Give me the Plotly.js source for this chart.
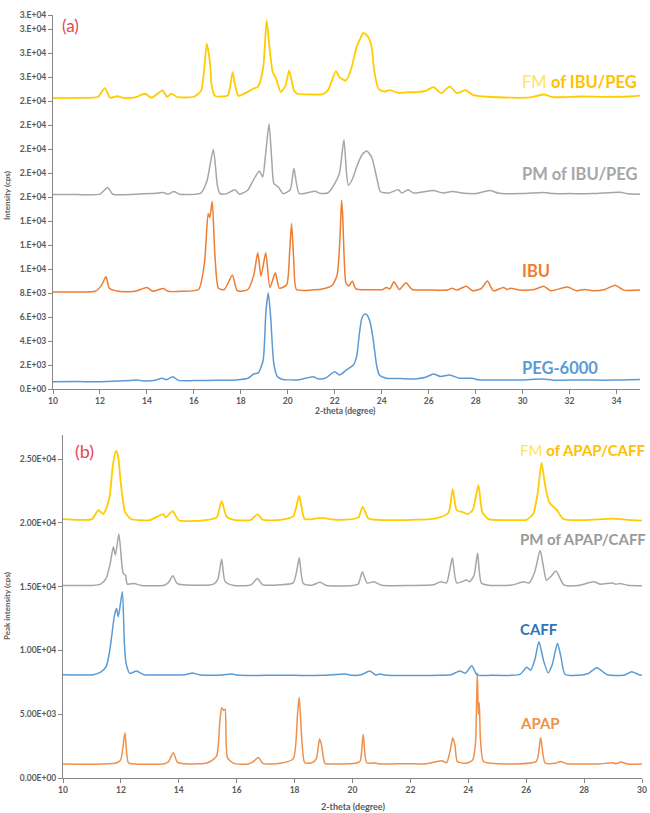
<!DOCTYPE html>
<html>
<head>
<meta charset="utf-8">
<script src="https://cdn.plot.ly/plotly-3.0.1.min.js"></script>
<style>html,body{margin:0;padding:0;background:#fff;}#chart{width:650px;height:813px;}</style>
</head>
<body>
<div id="chart"></div>
<script>
// ---------- Panel (a) data ----------
const pegX = [10.0,11.0,12.0,13.0,13.3,13.58,13.8,14.3,14.64,14.85,15.1,15.35,16.0,17.0,17.8,18.3,18.55,18.75,18.95,19.07,19.17,19.27,19.4,19.55,19.8,20.5,21.07,21.3,21.6,22.0,22.2,22.5,22.79,22.93,23.05,23.15,23.26,23.36,23.5,23.64,23.78,23.9,24.2,24.8,25.5,25.9,26.2,26.5,26.9,27.3,27.85,28.1,29.0,30.0,30.85,31.3,32.5,33.5,34.2,35.0];
const pegY = [600,620,610,680,700,760,680,700,900,780,1030,720,700,720,760,900,1250,1350,2400,6500,8000,6000,2200,1050,800,780,1030,850,900,1440,1170,1600,2000,2700,4640,5890,6250,6200,5610,4080,2000,1170,900,870,850,1000,1250,1050,1170,900,900,780,750,760,830,740,760,740,760,790];

const ibuX = [10.0,11.0,11.8,12.05,12.26,12.4,12.8,13.5,14.0,14.25,14.7,14.9,15.5,16.2,16.45,16.61,16.68,16.78,16.9,17.05,17.3,17.64,17.85,18.3,18.55,18.72,18.86,19.06,19.24,19.47,19.64,19.95,20.08,20.16,20.26,20.37,21.0,21.6,21.9,22.1,22.22,22.29,22.34,22.4,22.48,22.6,22.75,22.9,23.5,24.05,24.2,24.35,24.52,24.75,25.03,25.3,26.0,26.8,27.0,27.2,27.6,27.87,28.25,28.5,28.76,29.18,29.35,29.49,29.9,30.5,30.9,31.2,31.9,32.3,32.63,33.0,33.5,33.94,34.3,35.0];
const ibuY = [8100,8100,8150,8600,9360,8400,8150,8150,8470,8150,8390,8150,8150,8300,10500,14640,14300,15660,11000,8400,8300,9500,8200,8300,9500,11360,9410,11360,8470,9690,8400,8700,11500,13800,10500,8300,8250,8400,8660,9500,12500,15750,14350,11000,8800,8600,9000,8350,8280,8300,8470,8350,8940,8300,8860,8300,8260,8250,8400,8250,8580,8190,8400,9000,8190,8470,8300,8400,8250,8300,8580,8200,8500,8200,8300,8200,8300,8660,8250,8250];

const pmIbuX = [10.0,11.0,12.0,12.33,12.55,13.5,14.2,14.7,14.9,15.15,15.4,16.3,16.55,16.83,17.0,17.11,17.4,17.75,17.95,18.3,18.53,18.79,18.93,19.05,19.2,19.32,19.41,19.6,19.8,20.1,20.26,20.49,21.16,21.37,21.7,22.0,22.2,22.39,22.5,22.58,22.75,22.93,23.15,23.36,23.57,23.78,23.95,24.3,24.71,24.85,25.13,25.35,26.2,26.6,27.0,27.5,28.0,28.6,29.0,30.0,30.9,31.3,32.0,33.0,34.15,34.5,35.0];
const pmIbuY = [16220,16220,16260,16800,16250,16250,16300,16390,16250,16470,16250,16350,17300,19970,17000,16300,16300,16630,16250,16600,17410,18190,17690,19500,22130,19000,17140,16850,16300,16600,18390,16300,16500,16320,16350,17140,18000,20800,18000,17000,17500,18520,19500,19850,19350,17690,16450,16350,16630,16350,16630,16350,16550,16350,16470,16330,16300,16550,16330,16300,16400,16300,16300,16300,16420,16280,16240];

const fmIbuX = [10.0,11.0,11.7,11.93,12.21,12.43,12.74,13.0,13.5,13.92,14.2,14.67,14.85,15.05,15.3,16.0,16.3,16.42,16.55,16.68,16.76,16.9,17.2,17.45,17.55,17.65,17.75,17.9,18.2,18.53,18.74,18.95,19.1,19.22,19.36,19.5,19.7,19.9,20.06,20.26,20.4,21.0,21.5,21.72,22.05,22.2,22.48,22.7,22.93,23.1,23.22,23.43,23.57,23.68,23.86,24.1,24.35,24.7,25.0,25.5,25.9,26.2,26.55,26.9,27.2,27.57,27.9,28.5,29.5,30.3,30.9,31.3,32.5,33.5,34.5,35.0];
const fmIbuY = [24270,24280,24300,24380,25100,24300,24420,24280,24330,24630,24300,24910,24380,24630,24350,24380,24850,26300,28800,27300,25300,24450,24400,24500,25300,26430,25400,24450,24700,25050,25250,26800,30740,28500,26430,25900,24770,25300,26570,24910,24630,24570,24600,24940,26520,26000,25740,26700,28520,29300,29710,29350,28520,26570,25050,24800,24940,24700,24750,24770,24900,25180,24680,25250,24680,24940,24520,24380,24300,24320,24570,24350,24400,24370,24400,24480];

// ---------- Panel (b) data ----------
const apapX = [10.0,11.0,11.8,11.99,12.14,12.26,12.5,13.5,13.65,13.81,13.95,14.3,15.0,15.3,15.42,15.48,15.55,15.6,15.68,15.9,16.4,16.55,16.75,16.9,17.5,17.95,18.1,18.16,18.25,18.35,18.6,18.75,18.86,18.92,18.99,19.05,19.5,20.1,20.26,20.37,20.49,20.78,21.0,21.96,22.5,23.08,23.25,23.38,23.46,23.54,23.62,23.9,24.15,24.25,24.31,24.35,24.38,24.42,24.52,24.8,25.5,26.35,26.5,26.65,27.0,27.19,27.4,27.8,28.5,28.99,29.1,29.27,29.5,30.0];
const apapY = [1100,1080,1150,1400,3550,1200,1100,1120,1300,1990,1250,1100,1200,1700,4500,5510,5300,5400,1600,1150,1100,1250,1600,1150,1150,1500,5000,6330,3000,1200,1200,1500,3060,2700,1670,1150,1100,1150,1300,3420,1200,1180,1100,1120,1100,1360,1200,2200,3160,2550,1300,1150,1400,2800,8260,5000,5900,3000,1300,1150,1100,1300,3160,1200,1150,1300,1120,1100,1100,1200,1120,1250,1100,1100];

const caffX = [10.0,10.5,11.05,11.3,11.49,11.6,11.68,11.78,11.85,11.91,12.05,12.12,12.18,12.31,12.54,12.8,13.5,14.2,14.48,14.7,15.5,15.83,16.1,17.0,18.0,19.0,19.74,20.0,20.3,20.6,20.8,20.95,21.2,22.0,23.0,23.4,23.71,23.9,24.12,24.3,24.8,25.5,25.8,26.02,26.15,26.3,26.44,26.6,26.76,26.9,27.08,27.2,27.34,27.8,28.15,28.44,28.8,29.4,29.64,29.9,30.0];
const caffY = [8100,8080,8100,8300,8730,9800,11080,12800,13300,12650,14610,10560,8990,8200,8390,8100,8080,8100,8230,8100,8080,8150,8050,8050,8050,8050,8150,8050,8100,8390,8080,8150,8050,8030,8050,8100,8390,8220,8800,8080,8050,8050,8150,8680,8450,9300,10690,9200,8240,8900,10560,9500,8140,8050,8200,8650,8100,8080,8340,8100,8050];

const pmApX = [10.0,11.0,11.3,11.49,11.62,11.74,11.81,11.93,12.03,12.08,12.16,12.22,12.46,12.7,13.5,13.65,13.79,13.95,14.5,15.2,15.35,15.48,15.6,15.9,16.5,16.71,16.9,17.5,17.95,18.07,18.16,18.3,18.6,18.88,19.1,20.0,20.2,20.34,20.5,20.74,21.0,22.0,22.8,23.05,23.25,23.35,23.45,23.6,23.94,24.05,24.2,24.32,24.45,24.7,25.5,25.9,26.1,26.3,26.48,26.6,26.7,26.85,27.03,27.3,27.8,28.34,28.55,28.97,29.1,29.24,29.5,30.0];
const pmApY = [15100,15100,15200,15650,16700,18130,17480,19130,16830,16050,15900,15210,15260,15100,15120,15350,15860,15250,15120,15200,15600,17150,15400,15100,15150,15650,15150,15150,15300,16200,17270,15250,15120,15350,15100,15100,15220,16180,15300,15390,15120,15100,15150,15390,15300,16200,17270,15300,15520,15400,15900,17620,15300,15120,15130,15390,15300,16200,17870,16500,15520,15800,16230,15150,15100,15390,15200,15300,15200,15250,15120,15080];

const fmApX = [10.0,10.5,11.0,11.22,11.39,11.52,11.62,11.72,11.83,11.9,11.99,12.07,12.14,12.35,13.0,13.46,13.55,13.79,14.0,15.0,15.31,15.48,15.65,15.9,16.5,16.72,16.9,17.5,17.95,18.16,18.35,18.9,19.5,20.2,20.35,20.55,21.0,22.0,22.85,23.31,23.46,23.6,23.83,23.97,24.15,24.35,24.48,24.7,25.5,26.0,26.24,26.4,26.53,26.65,26.8,27.07,27.28,28.0,29.0,29.5,30.0];
const fmApY = [20310,20250,20300,21010,20700,21300,22190,24500,25660,25300,23230,21800,20880,20310,20230,20700,20440,20930,20210,20250,20440,21720,20500,20250,20250,20700,20250,20250,20520,22130,20310,20400,20250,20440,21270,20350,20230,20250,20350,20780,22660,21000,20830,20700,21000,22970,20880,20300,20230,20250,20700,22400,24720,23000,21610,20990,20310,20230,20340,20250,20180];

// ---------- Tick labels ----------
const xTicksA = [10,12,14,16,18,20,22,24,26,28,30,32,34];
const yTicksA = [0,2000,4000,6000,8000,10000,12000,14000,16000,18000,20000,22000,24000,26000,28000,30000,31200];
const yTextA = ['0.E+00','2.E+03','4.E+03','6.E+03','8.E+03','1.E+04','1.E+04','1.E+04','2.E+04','2.E+04','2.E+04','2.E+04','2.E+04','3.E+04','3.E+04','3.E+04','3.E+04'];
const xTicksB = [10,12,14,16,18,20,22,24,26,28,30];
const yTicksB = [0,5000,10000,15000,20000,25000];
const yTextB = ['0.00E+00','5.00E+03','1.00E+04','1.50E+04','2.00E+04','2.50E+04'];

const C_YEL = '#FFCC00', C_GRY = '#A6A6A6', C_ORA = '#ED7D31', C_BLU = '#5B9BD5', C_APAP = '#F0904A';

function tr(x, y, color, xa, ya, w) {
  return {x: x, y: y, type: 'scatter', mode: 'lines', xaxis: xa, yaxis: ya,
          line: {color: color, width: w || 1.5, shape: 'spline', smoothing: 0.6}, hoverinfo: 'skip'};
}
const data = [
  tr(pegX, pegY, C_BLU, 'x', 'y'),
  tr(ibuX, ibuY, C_ORA, 'x', 'y'),
  tr(pmIbuX, pmIbuY, C_GRY, 'x', 'y'),
  tr(fmIbuX, fmIbuY, C_YEL, 'x', 'y', 1.8),
  tr(apapX, apapY, C_APAP, 'x2', 'y2'),
  tr(caffX, caffY, C_BLU, 'x2', 'y2'),
  tr(pmApX, pmApY, C_GRY, 'x2', 'y2'),
  tr(fmApX, fmApY, C_YEL, 'x2', 'y2', 1.8)
];

const tickFont = {family: 'Lato, sans-serif', size: 8.5, color: '#595959', weight: 'bold'};
const axBase = {showline: true, linecolor: '#868686', linewidth: 1, ticks: 'outside', ticklen: 4,
  tickcolor: '#868686', showgrid: false, zeroline: false, tickfont: tickFont, fixedrange: true};

const H = 813, W = 650;
const labFont = (c, s) => ({family: 'Lato, sans-serif', size: s, color: c});
const layout = {
  width: W, height: H,
  margin: {l: 0, r: 0, t: 0, b: 0},
  paper_bgcolor: '#fff', plot_bgcolor: 'rgba(0,0,0,0)',
  showlegend: false,
  xaxis: Object.assign({}, axBase, {domain: [53/W, 640/W], range: [10, 35], anchor: 'y', tickmode: 'array', tickvals: xTicksA}),
  yaxis: Object.assign({}, axBase, {domain: [(H-389)/H, (H-15)/H], range: [0, 31200], anchor: 'x', tickmode: 'array', tickvals: yTicksA, ticktext: yTextA}),
  xaxis2: Object.assign({}, axBase, {domain: [63/W, 642/W], range: [10, 30], anchor: 'y2', tickmode: 'array', tickvals: xTicksB}),
  yaxis2: Object.assign({}, axBase, {domain: [(H-778)/H, (H-435)/H], range: [0, 26900], anchor: 'x2', tickmode: 'array', tickvals: yTicksB, ticktext: yTextB}),
  annotations: [
    {xref: 'paper', yref: 'paper', x: 70/W, y: (H-25)/H, text: '(a)', showarrow: false, xanchor: 'center', yanchor: 'middle', font: labFont('#E5484D', 17)},
    {xref: 'paper', yref: 'paper', x: 84/W, y: (H-451)/H, text: '(b)', showarrow: false, xanchor: 'center', yanchor: 'middle', font: labFont('#E5484D', 18)},
    {xref: 'paper', yref: 'paper', x: 7/W, y: (H-196)/H, text: '<b>Intensity (cps)</b>', textangle: -90, showarrow: false, xanchor: 'center', yanchor: 'middle', font: {family: 'Lato, sans-serif', size: 8, color: '#595959'}},
    {xref: 'paper', yref: 'paper', x: 346/W, y: (H-411)/H, text: '<b>2-theta (degree)</b>', showarrow: false, xanchor: 'center', yanchor: 'middle', font: {family: 'Lato, sans-serif', size: 8.5, color: '#595959'}},
    {xref: 'paper', yref: 'paper', x: 7/W, y: (H-606)/H, text: '<b>Peak intensity (cps)</b>', textangle: -90, showarrow: false, xanchor: 'center', yanchor: 'middle', font: {family: 'Lato, sans-serif', size: 8, color: '#595959'}},
    {xref: 'paper', yref: 'paper', x: 353/W, y: (H-806)/H, text: '<b>2-theta (degree)</b>', showarrow: false, xanchor: 'center', yanchor: 'middle', font: {family: 'Lato, sans-serif', size: 9, color: '#595959'}},
    {xref: 'x', yref: 'y', x: 29.9, y: 25600, text: '<span style="color:#FFE45C">FM</span> <b>of IBU/PEG</b>', showarrow: false, xanchor: 'left', yanchor: 'middle', font: labFont('#FFC000', 16.5)},
    {xref: 'x', yref: 'y', x: 29.9, y: 17970, text: '<b>PM of IBU/PEG</b>', showarrow: false, xanchor: 'left', yanchor: 'middle', font: labFont('#A6A6A6', 16.5)},
    {xref: 'x', yref: 'y', x: 29.9, y: 9830, text: '<b>IBU</b>', showarrow: false, xanchor: 'left', yanchor: 'middle', font: labFont('#ED7D31', 16.5)},
    {xref: 'x', yref: 'y', x: 29.9, y: 1720, text: '<b>PEG-6000</b>', showarrow: false, xanchor: 'left', yanchor: 'middle', font: labFont('#5B9BD5', 16.5)},
    {xref: 'x2', yref: 'y2', x: 25.7, y: 25720, text: '<span style="color:#FFE45C">FM</span> <b>of APAP/CAFF</b>', showarrow: false, xanchor: 'left', yanchor: 'middle', font: labFont('#FFC000', 15)},
    {xref: 'x2', yref: 'y2', x: 25.7, y: 18740, text: '<b>PM of APAP/CAFF</b>', showarrow: false, xanchor: 'left', yanchor: 'middle', font: labFont('#9A9A9A', 15)},
    {xref: 'x2', yref: 'y2', x: 25.7, y: 11680, text: '<b>CAFF</b>', showarrow: false, xanchor: 'left', yanchor: 'middle', font: labFont('#2E75B6', 15)},
    {xref: 'x2', yref: 'y2', x: 25.7, y: 4290, text: '<b>APAP</b>', showarrow: false, xanchor: 'left', yanchor: 'middle', font: labFont('#F0904A', 15)}
  ]
};

Plotly.newPlot('chart', data, layout, {staticPlot: true, displayModeBar: false});
</script>
</body>
</html>
